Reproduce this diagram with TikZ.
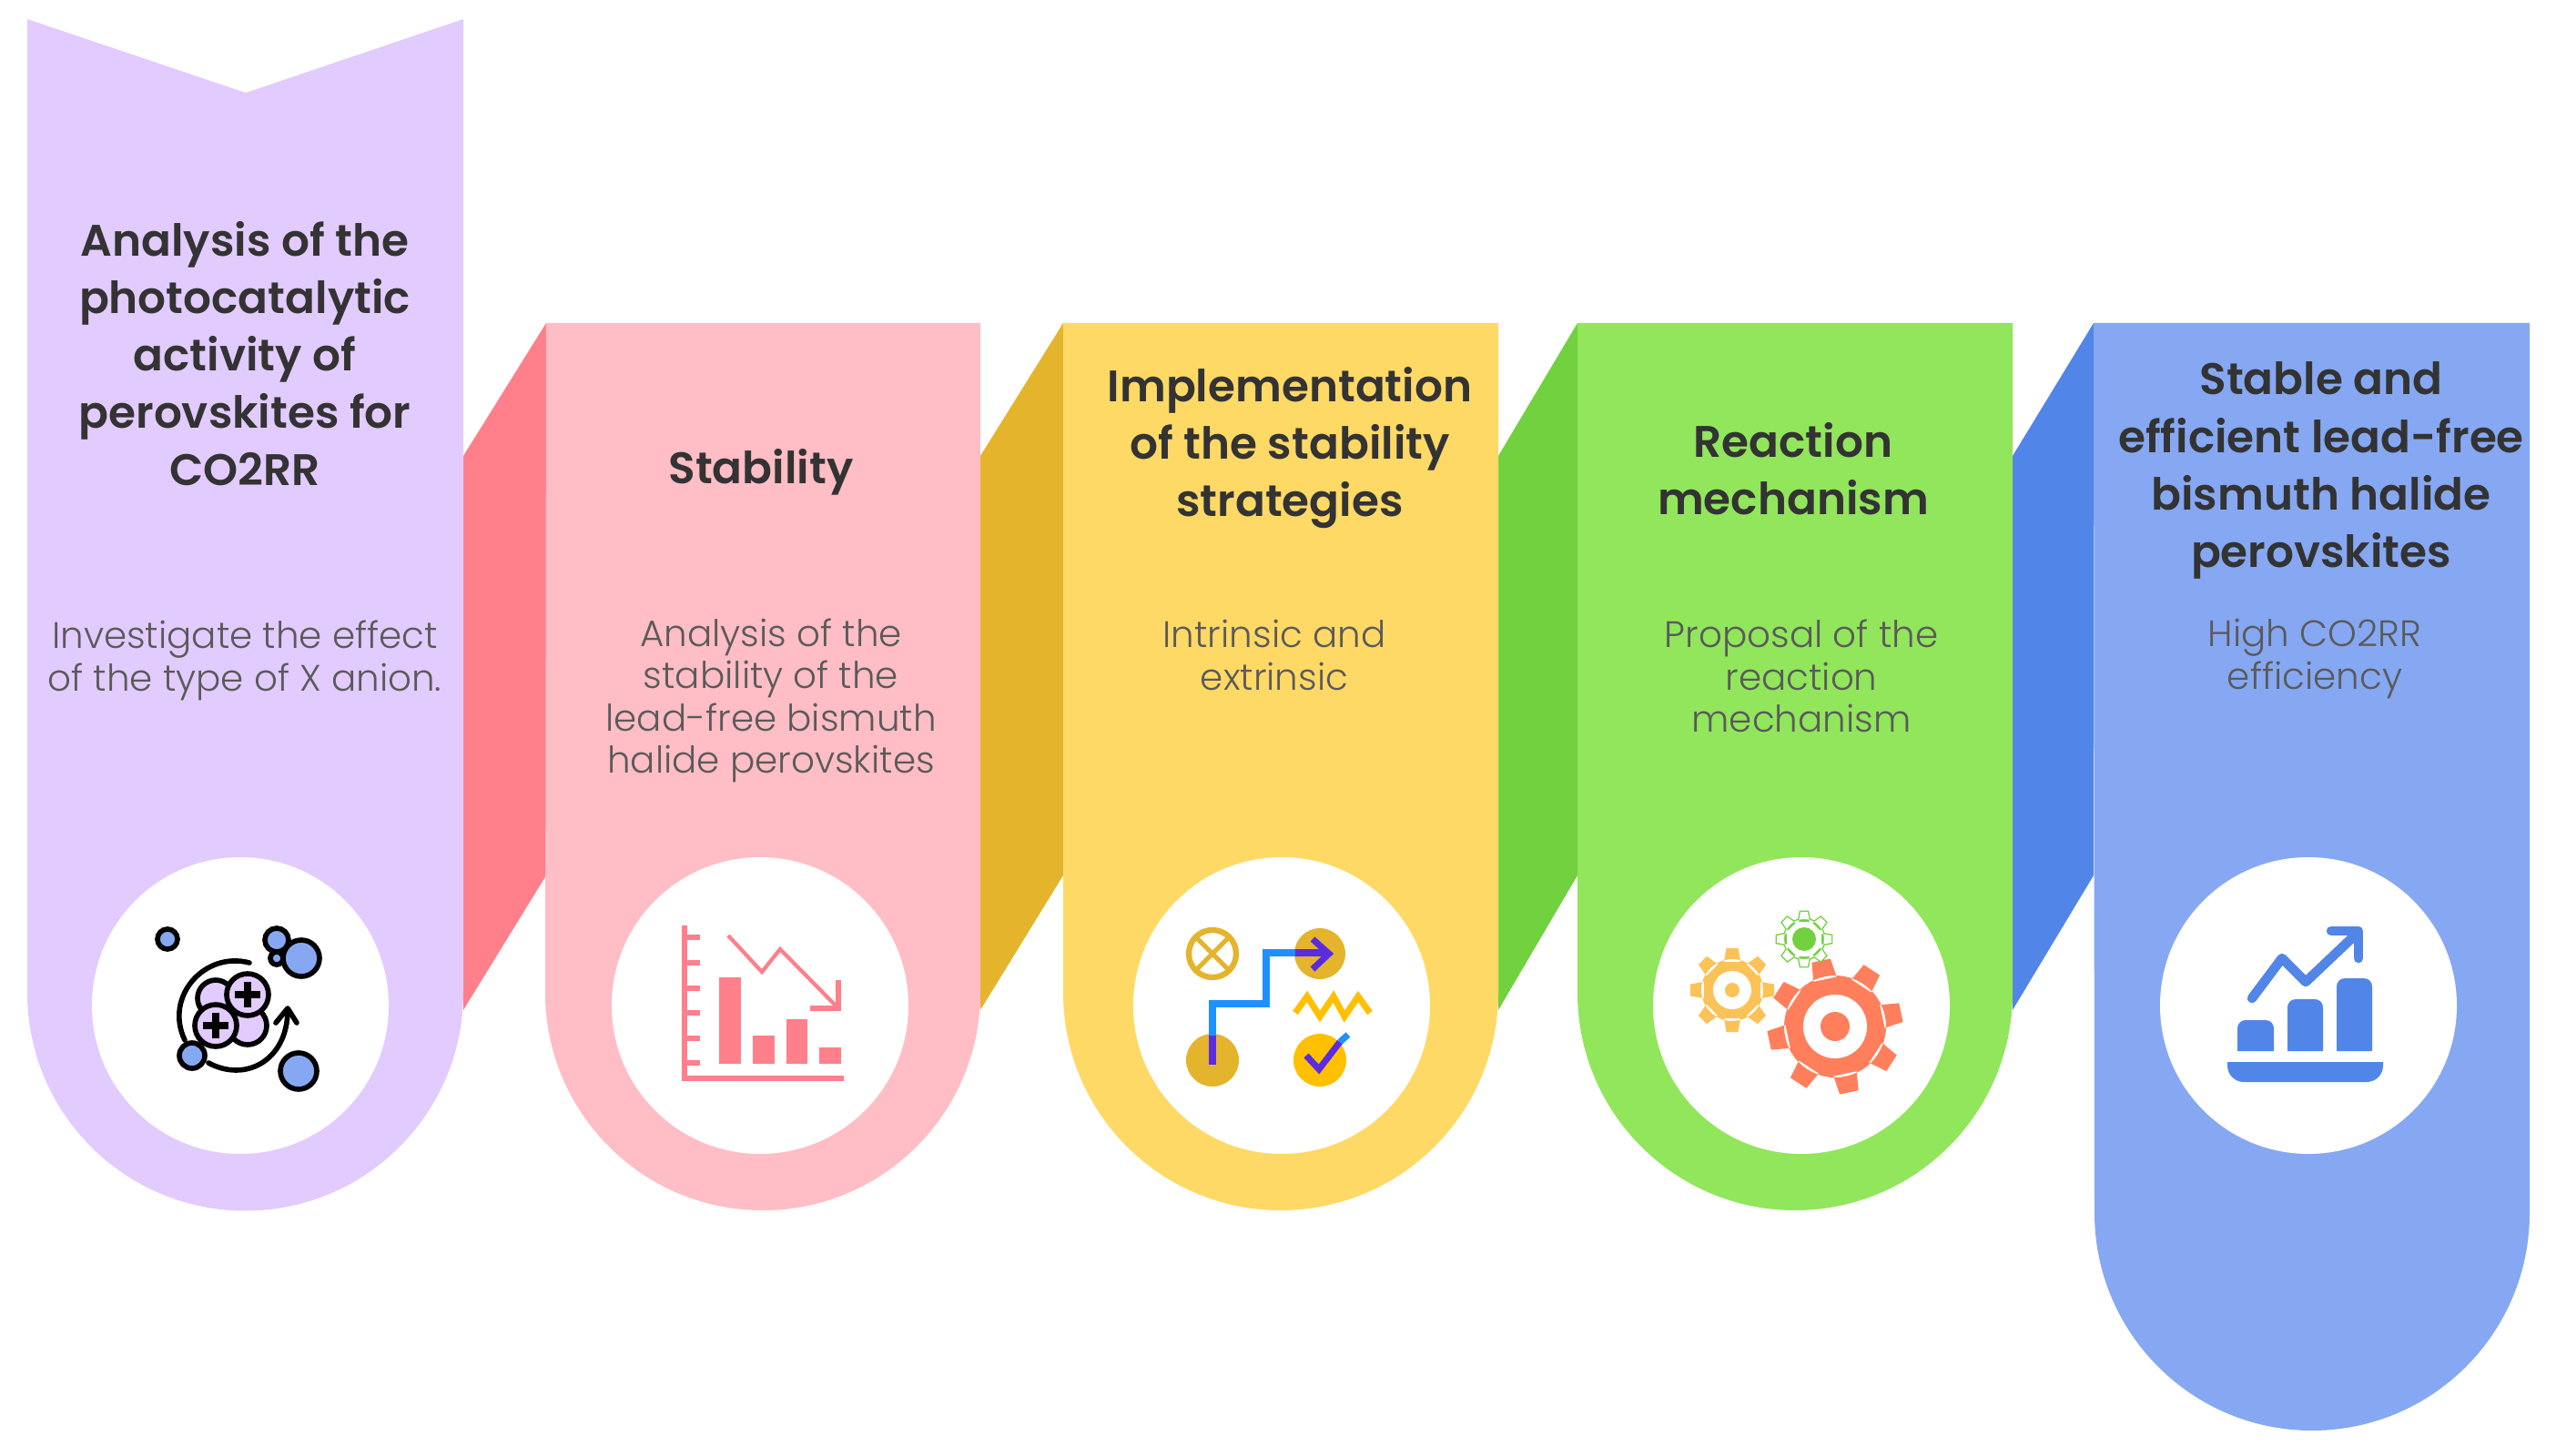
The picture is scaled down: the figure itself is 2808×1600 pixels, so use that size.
\documentclass[tikz,border=0pt]{standalone}
\usepackage{fontspec}
\setmainfont{Poppins}[UprightFont={Poppins Light},BoldFont={Poppins SemiBold}]
\definecolor{pPurple}{HTML}{E2CBFF}
\definecolor{pPink}{HTML}{FFBDC5}
\definecolor{pYellow}{HTML}{FFD966}
\definecolor{pGreen}{HTML}{91E65C}
\definecolor{pBlue}{HTML}{86A8F2}
\definecolor{dRed}{HTML}{FF7F8A}
\definecolor{dGold}{HTML}{E5B42D}
\definecolor{dGreen}{HTML}{72D13F}
\definecolor{dBlue}{HTML}{5285E8}
\definecolor{tDark}{HTML}{333333}
\definecolor{tGrey}{HTML}{5A5A5A}
\definecolor{iBlue}{HTML}{1E90FF}
\definecolor{iViolet}{HTML}{5B2BE0}
\definecolor{iAmber}{HTML}{FFC000}
\definecolor{gOrange}{HTML}{FF7F5C}
\definecolor{gGold}{HTML}{FBC257}
\newcommand{\myPanel}[5]{%
  \fill[#5] (#1,#3) -- (#2,#3) -- (#2,#4)
    arc[start angle=0,end angle=180,radius=239] -- cycle;}
\newcommand{\myLink}[3]{%
  \fill[#3] (#1,501) -- (#2,355) -- (#2,962) -- (#1,1110) -- cycle;}
\newcommand{\myGearPath}[4]{% base radius, outer radius, half-width base, half-width tip
  (0,0) circle[radius=#1]
  \foreach \a in {0,45,...,315}{
    [rotate=\a] (-#3,#1-3) -- (-#4,#2) -- (#4,#2) -- (#3,#1-3) -- cycle }}
\tikzset{
  x=0.01cm,y=-0.01cm,
  titletext/.style={align=center,text=tDark,font=\fontsize{13.8pt}{17.93pt}\selectfont\bfseries,inner sep=0pt},
  subtext/.style={align=center,text=tGrey,font=\fontsize{11.5pt}{13.2pt}\selectfont,inner sep=0pt},
  holecircle/.style={fill=white},
  atom/.style={draw=black,line width=1.6pt,fill=pBlue},
  charge/.style={draw=black,line width=1.6pt,fill=pPurple},
  inkline/.style={black,line width=1.6pt,line cap=round,line join=round},
}
\begin{document}
\begin{tikzpicture}
\useasboundingbox (0,0) rectangle (2808,1600);
\fill[white] (0,0) rectangle (2808,1600);
% links
\myLink{509}{600}{dRed}
\myLink{1077}{1168}{dGold}
\myLink{1646}{1733}{dGreen}
\myLink{2211}{2300}{dBlue}
% panels
\fill[pPurple] (30,21) -- (270,102) -- (509,21) -- (509,1091)
  arc[start angle=0,end angle=180,radius=239.5] -- cycle;
\myPanel{600}{1077}{355}{1091}{pPink}
\myPanel{1168}{1646}{355}{1091}{pYellow}
\myPanel{1733}{2211}{355}{1091}{pGreen}
\myPanel{2300}{2779}{355}{1333}{pBlue}
% holes
\fill[holecircle] (264,1105) circle[radius=163];
\fill[holecircle] (835,1105) circle[radius=163];
\fill[holecircle] (1408,1105) circle[radius=163];
\fill[holecircle] (1979,1105) circle[radius=163];
\fill[holecircle] (2536,1105) circle[radius=163];
% titles
\node[titletext] (t1) at (269,389) {Analysis of the\\photocatalytic\\activity of\\perovskites for\\CO2RR};
\node[titletext] (t2) at (836,519) {Stability};
\node[titletext] (t3) at (1417,492) {Implementation\\of the stability\\strategies};
\node[titletext] (t4) at (1970,515) {Reaction\\mechanism};
\node[titletext] (t5) at (2550,517) {Stable and\\efficient lead-free\\bismuth halide\\perovskites};
% subtexts
\node[subtext] (s1) at (269,726) {Investigate the effect\\of the type of X anion.};
\node[subtext] (s2) at (847,770) {Analysis of the\\stability of the\\lead-free bismuth\\halide perovskites};
\node[subtext] (s3) at (1400,720) {Intrinsic and\\extrinsic};
\node[subtext] (s4) at (1979,743) {Proposal of the\\reaction\\mechanism};
\node[subtext] (s5) at (2543,724) {High CO2RR\\efficiency};
% icon 1
\draw[atom] (184,1032) circle[radius=11];
\draw[atom] (331,1053) circle[radius=20];
\draw[atom] (304,1033) circle[radius=13];
\draw[atom] (304,1053) circle[radius=7];
\draw[atom] (328,1177) circle[radius=20];
\draw[inkline] (274,1058) .. controls (225,1045) and (180,1095) .. (203,1143);
\draw[inkline] (229,1168) .. controls (270,1190) and (315,1165) .. (316,1112);
\draw[inkline] (303,1124) -- (316,1108) -- (326,1124);
\draw[charge] (272,1127) circle[radius=21];
\draw[charge] (237,1097) circle[radius=20];
\draw[charge] (237,1127) circle[radius=23];
\draw[charge] (272,1093) circle[radius=23];
\draw[inkline,line width=2pt,line cap=butt] (258,1093) -- (286,1093) (272,1079) -- (272,1107);
\draw[inkline,line width=2pt,line cap=butt] (223,1127) -- (251,1127) (237,1113) -- (237,1141);
\draw[atom] (211,1160) circle[radius=14];
% icon 2
\begin{scope}[dRed]
\draw[line width=1.7pt] (752,1017) -- (752,1185) -- (927,1185);
\foreach \yy in {1030,1058,1086,1113,1141,1168}{\draw[line width=1.5pt] (752,\yy) -- (769,\yy);}
\fill (790,1074) rectangle (814,1169);
\fill (827,1138) rectangle (851,1169);
\fill (864,1120) rectangle (887,1169);
\fill (900,1151) rectangle (924,1169);
\draw[line width=1.2pt] (800,1028) -- (837,1068) -- (857,1043) -- (921,1108);
\draw[line width=1.6pt] (921,1077) -- (921,1108) -- (890,1108);
\end{scope}
% icon 3
\draw[dGold,line width=1.8pt] (1332,1048) circle[radius=26];
\draw[dGold,line width=1.5pt] (1314,1030) -- (1350,1066) (1350,1030) -- (1314,1066);
\fill[dGold] (1450,1048) circle[radius=28];
\fill[dGold] (1332,1165) circle[radius=29];
\fill[iAmber] (1450,1165) circle[radius=29];
\draw[iBlue,line width=2.2pt] (1332,1140) -- (1332,1103) -- (1391,1103) -- (1391,1047) -- (1425,1047);
\draw[iViolet,line width=2.2pt] (1332,1138) -- (1332,1170);
\draw[iViolet,line width=2.2pt] (1423,1047) -- (1458,1047);
\draw[iViolet,line width=2pt] (1442,1032) -- (1460,1048) -- (1442,1065);
\draw[iAmber,line width=2pt] (1423,1113) -- (1436,1095) -- (1450,1117) -- (1465,1095) -- (1477,1117) -- (1492,1095) -- (1505,1113);
\draw[iViolet,line width=2pt] (1435,1160) -- (1449,1175) -- (1472,1145);
\draw[iBlue,line width=2pt] (1472,1145) -- (1481,1137);
% icon 4
\begin{scope}[shift={(1903,1088)}]
\fill[gGold] \myGearPath{34}{46}{9}{6.5};
\fill[white] (0,0) circle[radius=21];
\fill[gGold] (0,0) circle[radius=8];
\end{scope}
\begin{scope}[shift={(2016,1128)},rotate=12]
\fill[gOrange] \myGearPath{56}{74}{13}{10.5};
\fill[white] (0,0) circle[radius=35];
\fill[gOrange] (0,0) circle[radius=16];
\end{scope}
\begin{scope}[shift={(1982,1032)}]
\draw[dGreen,line width=0.8pt] \myGearPath{22}{30}{6}{4};
\fill[white] \myGearPath{22}{30}{6}{4};
\fill[dGreen] (0,0) circle[radius=13];
\end{scope}
% icon 5
\begin{scope}[dBlue]
\fill (2458,1155) -- (2458,1130) arc[start angle=180,end angle=270,radius=9] -- (2489,1121) arc[start angle=270,end angle=360,radius=9] -- (2498,1155) -- cycle;
\fill (2513,1155) -- (2513,1107) arc[start angle=180,end angle=270,radius=9] -- (2543,1098) arc[start angle=270,end angle=360,radius=9] -- (2552,1155) -- cycle;
\fill (2567,1155) -- (2567,1084) arc[start angle=180,end angle=270,radius=9] -- (2597,1075) arc[start angle=270,end angle=360,radius=9] -- (2606,1155) -- cycle;
\fill (2447,1167) -- (2618,1167) -- (2618,1171) arc[start angle=0,end angle=90,radius=18] -- (2465,1189) arc[start angle=90,end angle=180,radius=18] -- cycle;
\draw[line width=3pt,line cap=round,line join=round] (2474,1097) -- (2507,1053) -- (2533,1079) -- (2590,1025);
\draw[line width=3pt,line cap=round,line join=round] (2561,1023) -- (2591,1023) -- (2591,1053);
\end{scope}
\end{tikzpicture}
\end{document}
